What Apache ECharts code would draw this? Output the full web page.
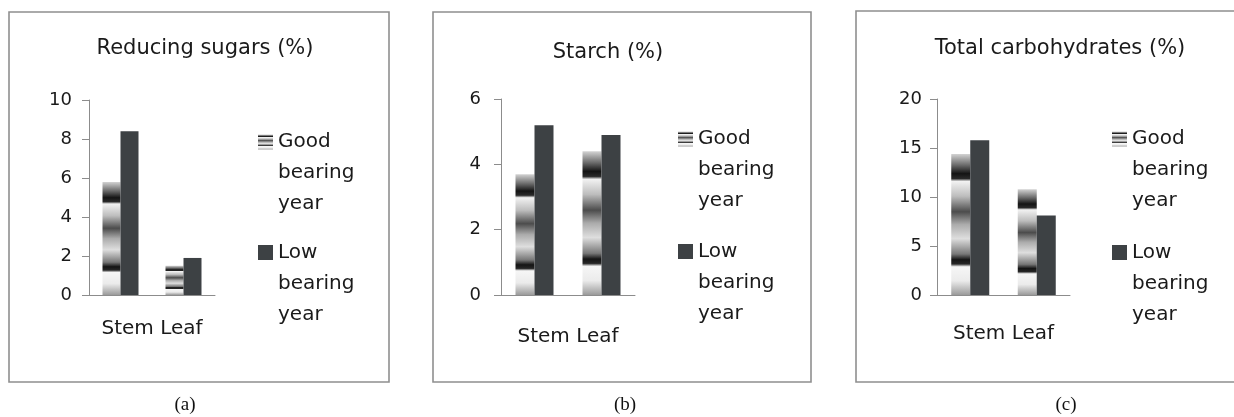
<!DOCTYPE html>
<html>
<head>
<meta charset="utf-8">
<script src="https://cdn.jsdelivr.net/npm/echarts@6/dist/echarts.min.js"></script>
<style>
  html, body { margin: 0; padding: 0; background: #fff; }
  #chart { width: 1234px; height: 417px; }
</style>
</head>
<body>
<div id="chart"></div>
<script>
// values
const categories = ['Stem', 'Leaf'];
const seriesNames = ['Good bearing year', 'Low bearing year'];
const panelTitles = ['Reducing sugars (%)', 'Starch (%)', 'Total carbohydrates (%)'];
const panelCaptions = ['(a)', '(b)', '(c)'];
const sugarGood = [5.8, 1.5];
const sugarLow = [8.4, 1.9];
const starchGood = [3.7, 4.4];
const starchLow = [5.2, 4.9];
const carbGood = [14.4, 10.8];
const carbLow = [15.8, 8.1];
const yMax = [10, 6, 20];
const yInterval = [2, 2, 5];

const goodData = [sugarGood, starchGood, carbGood];
const lowData = [sugarLow, starchLow, carbLow];

// layout of each panel (pixels)
const panels = [
    { box: [9, 12, 380, 370], grid: { left: 89, top: 100, width: 126, height: 195 }, barW: 18, margin: 17, nameGap: 24, title: [205, 49], legend: [258, 132], legendGap: 28.5, caption: 185 },
    { box: [433, 12, 378, 370], grid: { left: 501, top: 99, width: 134, height: 196 }, barW: 19, margin: 20, nameGap: 32, title: [608, 53], legend: [678, 129], legendGap: 30.5, caption: 625 },
    { box: [856, 11, 400, 371], grid: { left: 937, top: 99, width: 133, height: 196 }, barW: 19, margin: 15, nameGap: 29, title: [1060, 49], legend: [1112, 129], legendGap: 31.5, caption: 1066 }
];

const FONT = 'DejaVu Sans';
const AXIS_GREY = '#8c8c8c';
const LOW_COLOR = '#3d4144';
const TEXT = '#1a1a1a';

// banded "metal" texture of the good-year bars, top to bottom
const metal = {
    type: 'linear', x: 0, y: 0, x2: 0, y2: 1,
    colorStops: [
        { offset: 0, color: '#d4d4d4' },
        { offset: 0.08, color: '#6a6a6a' },
        { offset: 0.14, color: '#141414' },
        { offset: 0.175, color: '#2a2a2a' },
        { offset: 0.195, color: '#f2f2f2' },
        { offset: 0.3, color: '#bdbdbd' },
        { offset: 0.41, color: '#4c4c4c' },
        { offset: 0.5, color: '#ababab' },
        { offset: 0.6, color: '#dedede' },
        { offset: 0.71, color: '#777' },
        { offset: 0.75, color: '#141414' },
        { offset: 0.78, color: '#262626' },
        { offset: 0.8, color: '#f6f6f6' },
        { offset: 0.9, color: '#ebebeb' },
        { offset: 1, color: '#9a9a9a' }
    ]
};

const chart = echarts.init(document.getElementById('chart'), null, { renderer: 'canvas' });

const option = {
    animation: false,
    backgroundColor: '#fff',
    title: panels.map((p, i) => ({
        text: panelTitles[i],
        left: p.title[0],
        top: p.title[1],
        textAlign: 'center',
        textVerticalAlign: 'middle',
        padding: 0,
        textStyle: { fontFamily: FONT, fontSize: 21, fontWeight: 'normal', color: TEXT }
    })),
    // first line of each legend label sits beside the icon: rich text + top padding
    legend: panels.map(p => ({
        left: p.legend[0],
        top: p.legend[1],
        orient: 'vertical',
        padding: 0,
        itemGap: p.legendGap,
        itemWidth: 15,
        itemHeight: 15,
        icon: 'rect',
        selectedMode: false,
        data: seriesNames,
        formatter: name => name.split(' ').map(w => '{t|' + w + '}').join('\n'),
        textStyle: {
            fontFamily: FONT, fontSize: 20, color: TEXT, padding: [62, 0, 0, 0],
            rich: { t: { fontFamily: FONT, fontSize: 20, color: TEXT, lineHeight: 31 } }
        }
    })),
    grid: panels.map(p => Object.assign({ containLabel: false }, p.grid)),
    xAxis: panels.map((p, i) => ({
        type: 'category',
        gridIndex: i,
        data: categories,
        name: categories.join(' '),
        nameLocation: 'middle',
        nameGap: p.nameGap,
        nameTextStyle: { fontFamily: FONT, fontSize: 20, color: TEXT },
        axisLine: { lineStyle: { color: AXIS_GREY, width: 1 } },
        axisTick: { length: 8, lineStyle: { color: AXIS_GREY } },
        axisLabel: { show: false }
    })),
    yAxis: panels.map((p, i) => ({
        type: 'value',
        gridIndex: i,
        min: 0,
        max: yMax[i],
        interval: yInterval[i],
        axisLine: { show: true, lineStyle: { color: AXIS_GREY, width: 1 } },
        axisTick: { show: true, length: 7, lineStyle: { color: AXIS_GREY } },
        splitLine: { show: false },
        axisLabel: { margin: p.margin, fontFamily: FONT, fontSize: 18, color: TEXT }
    })),
    series: [],
    graphic: []
};

panels.forEach((p, i) => {
    option.series.push({
        type: 'bar', name: seriesNames[0], xAxisIndex: i, yAxisIndex: i,
        data: goodData[i], barWidth: p.barW, barGap: '0%',
        itemStyle: { color: metal }, emphasis: { disabled: true }
    });
    option.series.push({
        type: 'bar', name: seriesNames[1], xAxisIndex: i, yAxisIndex: i,
        data: lowData[i], barWidth: p.barW, barGap: '0%',
        itemStyle: { color: LOW_COLOR }, emphasis: { disabled: true }
    });
    option.graphic.push({
        type: 'rect', silent: true, z: -1,
        shape: { x: p.box[0], y: p.box[1], width: p.box[2], height: p.box[3] },
        style: { fill: null, stroke: '#8f8f8f', lineWidth: 1.6 }
    });
    option.graphic.push({
        type: 'text', silent: true,
        x: p.caption, y: 405,
        style: { text: panelCaptions[i], font: '19px "Liberation Serif", "Times New Roman", serif', fill: '#111', align: 'center', verticalAlign: 'middle' }
    });
});

chart.setOption(option);
</script>
</body>
</html>
